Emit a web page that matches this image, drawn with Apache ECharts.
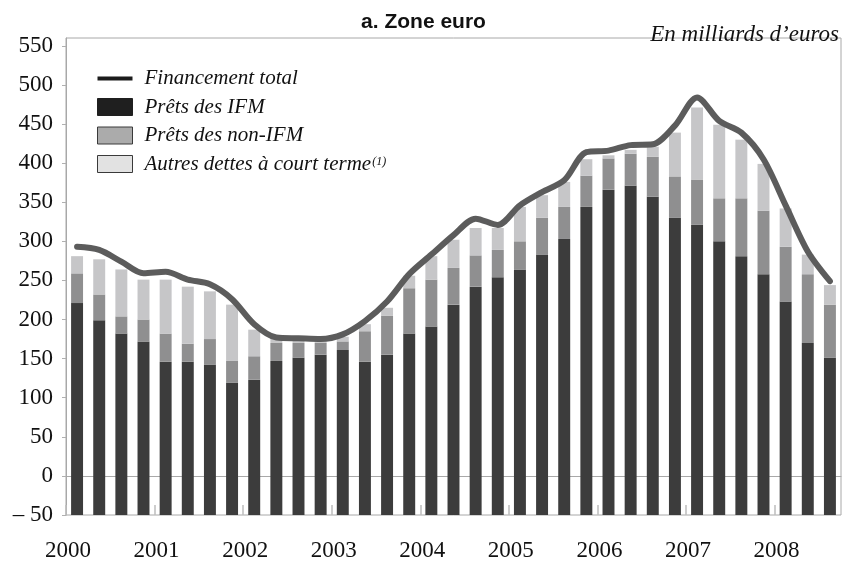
<!DOCTYPE html>
<html>
<head>
<meta charset="utf-8">
<script src="https://cdn.jsdelivr.net/npm/echarts@6/dist/echarts.min.js"></script>
<style>
  html, body { margin: 0; padding: 0; background: #fff; }
  #chart { width: 847px; height: 563px; }
</style>
</head>
<body>
<div id="chart"></div>
<script>
// Quarterly observations, 2000 T1 – 2008 T3 (milliards d'euros)
const quarters = [
  '2000 T1','2000 T2','2000 T3','2000 T4',
  '2001 T1','2001 T2','2001 T3','2001 T4',
  '2002 T1','2002 T2','2002 T3','2002 T4',
  '2003 T1','2003 T2','2003 T3','2003 T4',
  '2004 T1','2004 T2','2004 T3','2004 T4',
  '2005 T1','2005 T2','2005 T3','2005 T4',
  '2006 T1','2006 T2','2006 T3','2006 T4',
  '2007 T1','2007 T2','2007 T3','2007 T4',
  '2008 T1','2008 T2','2008 T3'
];
const pretsIFM = [221,199,182,172,146,146,142,119,123,147,151,155,161,146,155,182,191,219,242,254,264,283,303,344,366,371,357,330,321,300,281,258,223,170,151];
const pretsNonIFM = [38,33,22,28,36,23,33,28,30,23,19,15,11,39,50,58,60,47,40,35,36,47,41,40,40,41,51,53,58,55,74,81,70,88,68];
const autresDettes = [22,45,60,51,69,73,61,72,34,6,3,2,6,9,10,16,30,36,35,28,44,29,32,21,4,5,13,56,92,94,75,60,49,25,25];
const financementTotal = [293,289,274,259,261,251,245,226,194,177,176,175,181,198,223,258,283,308,329,321,346,363,378,414,416,423,424,448,484,454,439,405,346,287,249];
const yearLabels = ['2000','2001','2002','2003','2004','2005','2006','2007','2008'];

const Y_MIN = -50, Y_MAX = 560, Y_STEP = 50;
const SERIF = "'Liberation Serif', 'Times New Roman', serif";
const SANS = "'Liberation Sans', Arial, sans-serif";

const COLORS = {
  ifm: '#3c3c3c',
  nonIfm: '#8f8f90',
  autres: '#c6c6c8',
  total: '#5c5c5c'
};

// Build [category, low, high] segments for each stacked component.
// The first segment rests on the bottom of the value axis.
const segIFM = [], segNonIFM = [], segAutres = [];
quarters.forEach((q, i) => {
  const a = pretsIFM[i];
  const b = a + pretsNonIFM[i];
  const c = b + autresDettes[i];
  segIFM.push([i, Y_MIN, a]);
  segNonIFM.push([i, a, b]);
  segAutres.push([i, b, c]);
});

function renderSegment(params, api) {
  const x = api.value(0);
  const lo = api.coord([x, api.value(1)]);
  const hi = api.coord([x, api.value(2)]);
  const w = api.size([1, 0])[0] * 0.54;
  return {
    type: 'rect',
    shape: { x: lo[0] - w / 2, y: hi[1], width: w, height: lo[1] - hi[1] },
    style: api.style()
  };
}

const chart = echarts.init(document.getElementById('chart'), null, { renderer: 'canvas' });

chart.setOption({
  animation: false,
  backgroundColor: '#fff',
  title: [
    {
      text: 'a. Zone euro',
      left: 'center',
      top: 7,
      textStyle: { fontFamily: SANS, fontWeight: 'bold', fontSize: 21, color: '#111' }
    },
    {
      text: 'En milliards d\u2019euros',
      right: 3,
      top: 18,
      textStyle: { fontFamily: SERIF, fontStyle: 'italic', fontWeight: 'normal', fontSize: 23, color: '#111' }
    }
  ],
  legend: {
    orient: 'vertical',
    left: 97,
    top: 68,
    padding: 0,
    itemWidth: 35,
    itemHeight: 17,
    itemGap: 7.5,
    selectedMode: false,
    textStyle: {
      fontFamily: SERIF,
      fontStyle: 'italic',
      fontSize: 21,
      color: '#111',
      lineHeight: 17,
      padding: [0, 0, 0, 7],
      rich: {
        sup: { fontFamily: SERIF, fontSize: 12, verticalAlign: 'top', lineHeight: 17, padding: [0, 0, 0, 1] }
      }
    },
    formatter: function (name) {
      if (name === 'Autres dettes à court terme') return name + '{sup|(1)}';
      return name;
    },
    data: [
      { name: 'Financement total', icon: 'path://M0,0L0,0M0,6.5H35V10.5H0ZM0,17L0,17', itemStyle: { color: '#1c1c1c', borderWidth: 0 } },
      { name: 'Prêts des IFM', icon: 'rect', itemStyle: { color: '#1f1f1f', borderColor: '#1f1f1f', borderWidth: 1 } },
      { name: 'Prêts des non-IFM', icon: 'rect', itemStyle: { color: '#ababab', borderColor: '#3a3a3a', borderWidth: 1 } },
      { name: 'Autres dettes à court terme', icon: 'rect', itemStyle: { color: '#e2e2e2', borderColor: '#3a3a3a', borderWidth: 1 } }
    ]
  },
  grid: {
    left: 66,
    right: 6,
    top: 38,
    bottom: 48,
    show: true,
    borderColor: '#a8a8a8',
    borderWidth: 1,
    containLabel: false
  },
  xAxis: [
    {
      type: 'category',
      data: quarters,
      boundaryGap: true,
      axisLine: { show: true, lineStyle: { color: '#a8a8a8', width: 1 } },
      axisTick: { show: false },
      axisLabel: { show: false },
      splitLine: { show: false }
    },
    {
      // Year ticks sit on the boundaries between Q4 and Q1
      type: 'value',
      min: 0,
      max: quarters.length,
      interval: 4,
      position: 'bottom',
      axisLine: { show: false },
      axisTick: { show: true, inside: true, length: 10, lineStyle: { color: '#bdbdbd', width: 1.5 } },
      splitLine: { show: false },
      axisLabel: {
        show: true,
        margin: 24,
        showMaxLabel: false,
        fontFamily: SERIF,
        fontSize: 23,
        color: '#111',
        padding: [0, 0, 0, 4],
        formatter: function (v) {
          const k = Math.round(v / 4);
          return yearLabels[k] !== undefined ? yearLabels[k] : '';
        }
      }
    }
  ],
  yAxis: {
    type: 'value',
    min: Y_MIN,
    max: Y_MAX,
    interval: Y_STEP,
    axisLine: { show: true, lineStyle: { color: '#a8a8a8', width: 1 } },
    axisTick: { show: true, length: 4, lineStyle: { color: '#b0b0b0' } },
    splitLine: { show: false },
    axisLabel: {
      showMaxLabel: false,
      margin: 13,
      fontFamily: SERIF,
      fontSize: 23,
      color: '#111',
      formatter: function (v) {
        return v < 0 ? '\u2013 ' + Math.abs(v) : String(v);
      }
    }
  },
  series: [
    {
      name: 'Prêts des IFM',
      type: 'custom',
      xAxisIndex: 0,
      renderItem: renderSegment,
      encode: { x: 0, y: [1, 2] },
      itemStyle: { color: COLORS.ifm },
      data: segIFM,
      z: 2
    },
    {
      name: 'Prêts des non-IFM',
      type: 'custom',
      xAxisIndex: 0,
      renderItem: renderSegment,
      encode: { x: 0, y: [1, 2] },
      itemStyle: { color: COLORS.nonIfm },
      data: segNonIFM,
      z: 2
    },
    {
      name: 'Autres dettes à court terme',
      type: 'custom',
      xAxisIndex: 0,
      renderItem: renderSegment,
      encode: { x: 0, y: [1, 2] },
      itemStyle: { color: COLORS.autres },
      data: segAutres,
      z: 2
    },
    {
      name: 'Financement total',
      type: 'line',
      xAxisIndex: 0,
      data: financementTotal,
      smooth: 0.3,
      symbol: 'none',
      lineStyle: { color: COLORS.total, width: 6, cap: 'round', join: 'round' },
      itemStyle: { color: COLORS.total },
      z: 5
    }
  ]
});
</script>
</body>
</html>
